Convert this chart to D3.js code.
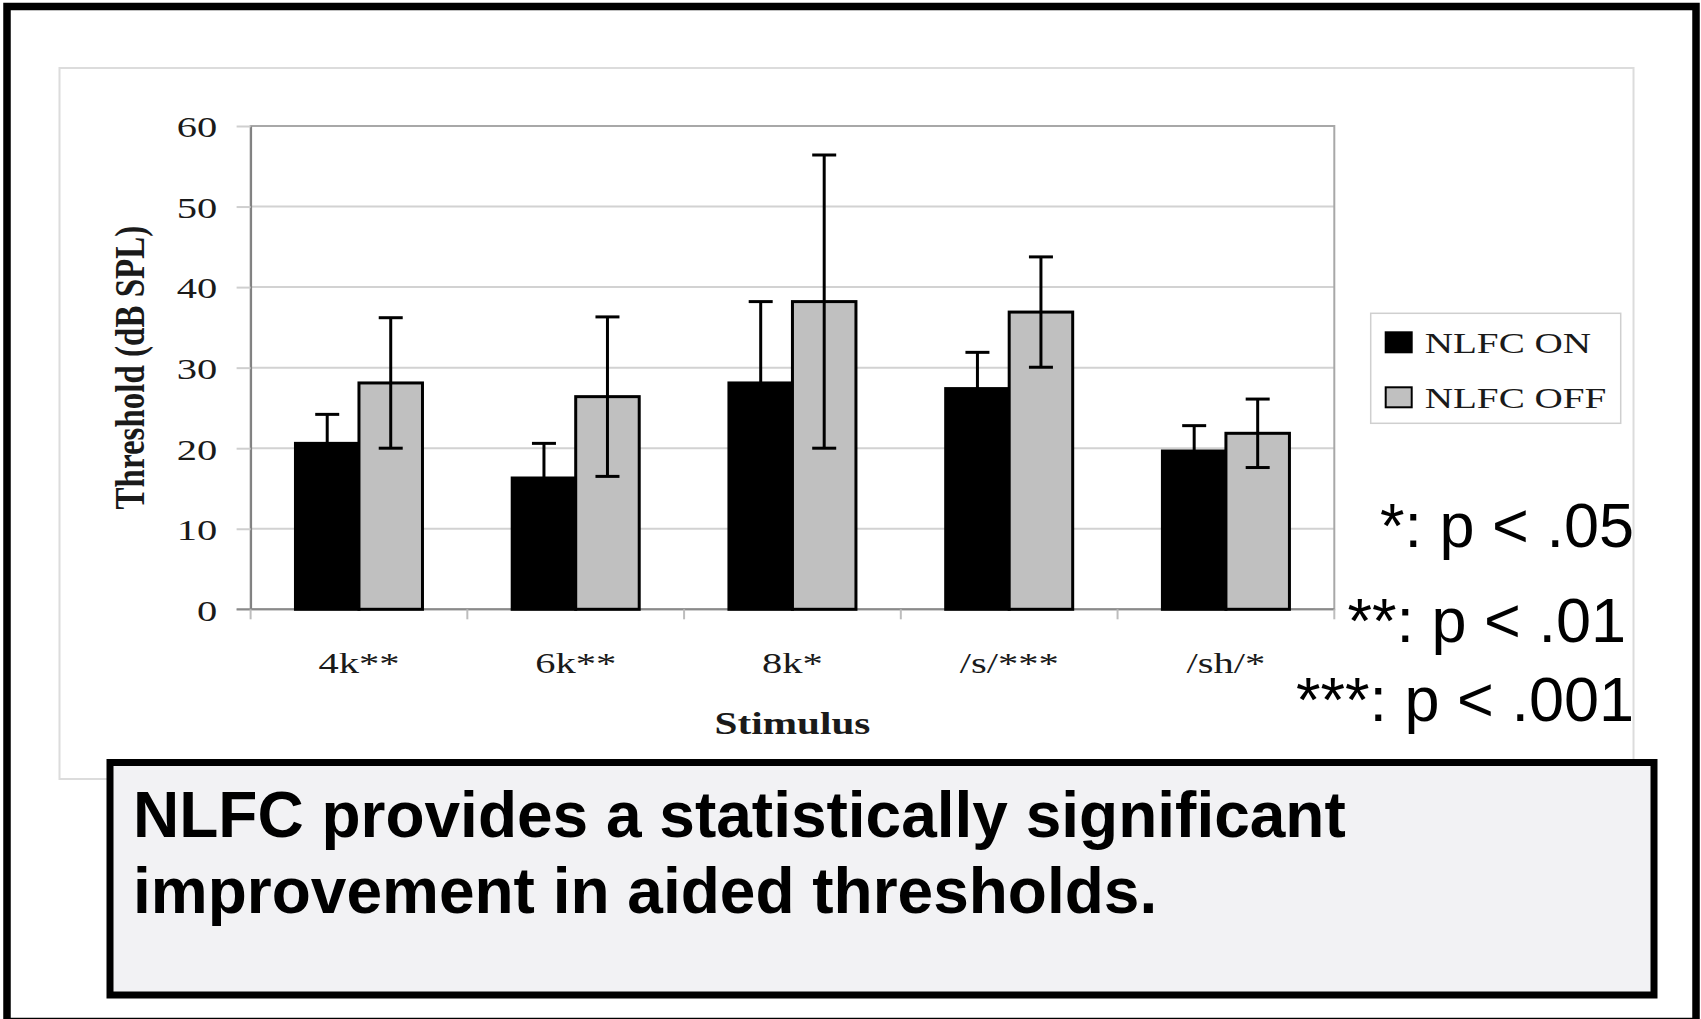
<!DOCTYPE html>
<html>
<head>
<meta charset="utf-8">
<script src="https://cdn.jsdelivr.net/npm/d3@7"></script>
<style>
  body { margin: 0; background: #fff; }
  svg { display: block; }
</style>
</head>
<body>
<div id="my_dataviz"></div>
<script>
// values
var categories = ["4k**", "6k**", "8k*", "/s/***", "/sh/*"]
var seriesNames = ["NLFC ON", "NLFC OFF"]
var onMeans = [20.6, 16.3, 28.1, 27.4, 19.65]
var onErr = [3.6, 4.3, 10.1, 4.5, 3.15]
var offMeans = [28.1, 26.4, 38.2, 36.9, 21.85]
var offErr = [8.1, 9.9, 18.2, 6.85, 4.25]
var yTicks = [0, 10, 20, 30, 40, 50, 60]
var sigNotes = ["*: p < .05", "**: p < .01", "***: p < .001"]
var conclusion = ["NLFC provides a statistically significant", "improvement in aided thresholds."]

var W = 1701, H = 1019
var SX = 1.35   // the pasted chart picture is stretched sideways
var serif = "'Liberation Serif', 'Times New Roman', serif"
var sans = "'Liberation Sans', Arial, sans-serif"

var svg = d3.select("#my_dataviz")
  .append("svg")
    .attr("width", W)
    .attr("height", H)

// outer slide frame
svg.append("rect")
  .attr("x", 7).attr("y", 6.5)
  .attr("width", 1689).attr("height", 1015)
  .attr("fill", "#fff")
  .attr("stroke", "#000")
  .attr("stroke-width", 7.5)

// border of the pasted chart picture
svg.append("rect")
  .attr("x", 59.5).attr("y", 68)
  .attr("width", 1574).attr("height", 711)
  .attr("fill", "#fff")
  .attr("stroke", "#dcdcdc")
  .attr("stroke-width", 2)

var plot = {left: 250.6, right: 1334.3, top: 126, bottom: 609.3}

var x0 = d3.scaleBand()
  .domain(categories)
  .range([plot.left, plot.right])
  .paddingInner(0.414)
  .paddingOuter(0.207)

var x1 = d3.scaleBand()
  .domain(seriesNames)
  .range([0, x0.bandwidth()])

var y = d3.scaleLinear()
  .domain([0, 60])
  .range([plot.bottom, plot.top])

var color = d3.scaleOrdinal()
  .domain(seriesNames)
  .range(["#000000", "#c0c0c0"])

// gridlines
svg.append("g")
  .selectAll("line")
  .data(yTicks.filter(function(d) { return d > 0 && d < 60 }))
  .enter()
  .append("line")
    .attr("x1", plot.left).attr("x2", plot.right)
    .attr("y1", function(d) { return y(d) }).attr("y2", function(d) { return y(d) })
    .attr("stroke", "#d2d2d2")
    .attr("stroke-width", 2)

// plot area border
svg.append("rect")
  .attr("x", plot.left).attr("y", plot.top)
  .attr("width", plot.right - plot.left).attr("height", plot.bottom - plot.top)
  .attr("fill", "none")
  .attr("stroke", "#a8a8a8")
  .attr("stroke-width", 2)

// Y axis
var yAxis = svg.append("g")
  .attr("transform", "translate(" + plot.left + ",0)")
  .call(d3.axisLeft(y).tickValues(yTicks).tickSize(14).tickSizeOuter(0).tickPadding(19))
yAxis.select(".domain")
  .attr("stroke", "#808080")
  .attr("stroke-width", 2)
yAxis.selectAll(".tick line")
  .attr("stroke", "#cfcfcf")
  .attr("stroke-width", 2)
yAxis.selectAll(".tick text")
  .attr("x", -33.3 / SX)
  .attr("dy", "0.36em")
  .attr("transform", "scale(" + SX + ",1)")
  .style("font-family", serif)
  .style("font-size", "30px")
  .attr("fill", "#1a1a1a")

// X axis: ticks sit between the categories
var step = x0.step()
var bounds = categories.map(function(c) { return x0(c) - step * x0.paddingOuter() })
bounds.push(plot.right)

svg.append("line")
  .attr("x1", plot.left - 14).attr("x2", plot.right)
  .attr("y1", plot.bottom).attr("y2", plot.bottom)
  .attr("stroke", "#8a8a8a")
  .attr("stroke-width", 2)

svg.append("g")
  .selectAll("line")
  .data(bounds)
  .enter()
  .append("line")
    .attr("x1", function(d) { return d }).attr("x2", function(d) { return d })
    .attr("y1", plot.bottom).attr("y2", plot.bottom + 10)
    .attr("stroke", "#bdbdbd")
    .attr("stroke-width", 2)

svg.append("g")
  .selectAll("text")
  .data(categories)
  .enter()
  .append("text")
    .attr("transform", function(d) { return "translate(" + (x0(d) + x0.bandwidth() / 2) + "," + (plot.bottom + 64) + ") scale(" + SX + ",1)" })
    .attr("text-anchor", "middle")
    .style("font-family", serif)
    .style("font-size", "30px")
    .attr("fill", "#1a1a1a")
    .text(function(d) { return d })

// axis titles
svg.append("text")
  .attr("transform", "translate(144," + ((plot.top + plot.bottom) / 2) + ") scale(1.3,1) rotate(-90)")
  .attr("text-anchor", "middle")
  .style("font-family", serif)
  .style("font-size", "33px")
  .style("font-weight", "bold")
  .attr("fill", "#1a1a1a")
  .text("Threshold (dB SPL)")

svg.append("text")
  .attr("transform", "translate(" + ((plot.left + plot.right) / 2) + ",734) scale(1.33,1)")
  .attr("text-anchor", "middle")
  .style("font-family", serif)
  .style("font-size", "31px")
  .style("font-weight", "bold")
  .attr("fill", "#1a1a1a")
  .text("Stimulus")

// bars + error bars
var rows = []
categories.forEach(function(c, i) {
  rows.push({cat: c, key: seriesNames[0], value: onMeans[i], err: onErr[i]})
  rows.push({cat: c, key: seriesNames[1], value: offMeans[i], err: offErr[i]})
})

svg.append("g")
  .selectAll("rect")
  .data(rows)
  .enter()
  .append("rect")
    .attr("x", function(d) { return x0(d.cat) + x1(d.key) })
    .attr("y", function(d) { return y(d.value) })
    .attr("width", x1.bandwidth())
    .attr("height", function(d) { return y(0) - y(d.value) })
    .attr("fill", function(d) { return color(d.key) })
    .attr("stroke", "#000")
    .attr("stroke-width", 3)

var capW = 12
var errG = svg.append("g")
  .selectAll("g")
  .data(rows)
  .enter()
  .append("g")
    .attr("stroke", "#000")
    .attr("stroke-width", 3)
    .attr("transform", function(d) { return "translate(" + (x0(d.cat) + x1(d.key) + x1.bandwidth() / 2) + ",0)" })
errG.append("line")
  .attr("y1", function(d) { return y(d.value - d.err) })
  .attr("y2", function(d) { return y(d.value + d.err) })
errG.append("line")
  .attr("x1", -capW).attr("x2", capW)
  .attr("y1", function(d) { return y(d.value + d.err) })
  .attr("y2", function(d) { return y(d.value + d.err) })
errG.append("line")
  .attr("x1", -capW).attr("x2", capW)
  .attr("y1", function(d) { return y(d.value - d.err) })
  .attr("y2", function(d) { return y(d.value - d.err) })

// legend
var legend = svg.append("g").attr("transform", "translate(1370.7,313.3)")
legend.append("rect")
  .attr("width", 250).attr("height", 110)
  .attr("fill", "#fff")
  .attr("stroke", "#cfcfcf")
  .attr("stroke-width", 1.5)
var item = legend.selectAll("g")
  .data(seriesNames)
  .enter()
  .append("g")
    .attr("transform", function(d, i) { return "translate(15," + (19 + i * 55) + ")" })
item.append("rect")
  .attr("width", 26).attr("height", 20)
  .attr("fill", function(d) { return color(d) })
  .attr("stroke", "#000")
  .attr("stroke-width", 2)
item.append("text")
  .attr("transform", "translate(39,21) scale(" + SX + ",1)")
  .style("font-family", serif)
  .style("font-size", "29px")
  .attr("fill", "#1a1a1a")
  .text(function(d) { return d })

// significance notes, right aligned
var noteY = [547, 642, 721]
var noteDx = [0, -8, 0]
svg.append("g")
  .selectAll("text")
  .data(sigNotes)
  .enter()
  .append("text")
    .attr("x", function(d, i) { return 1634 + noteDx[i] })
    .attr("y", function(d, i) { return noteY[i] })
    .attr("text-anchor", "end")
    .style("font-family", sans)
    .style("font-size", "63px")
    .attr("fill", "#000")
    .text(function(d) { return d })

// conclusion box
svg.append("rect")
  .attr("x", 110).attr("y", 762.5)
  .attr("width", 1544).attr("height", 232.5)
  .attr("fill", "#f2f2f4")
  .attr("stroke", "#000")
  .attr("stroke-width", 7)

svg.append("g")
  .selectAll("text")
  .data(conclusion)
  .enter()
  .append("text")
    .attr("x", 133)
    .attr("y", function(d, i) { return 837 + i * 76 })
    .style("font-family", sans)
    .style("font-size", "64px")
    .style("font-weight", "bold")
    .attr("fill", "#000")
    .text(function(d) { return d })
</script>
</body>
</html>
